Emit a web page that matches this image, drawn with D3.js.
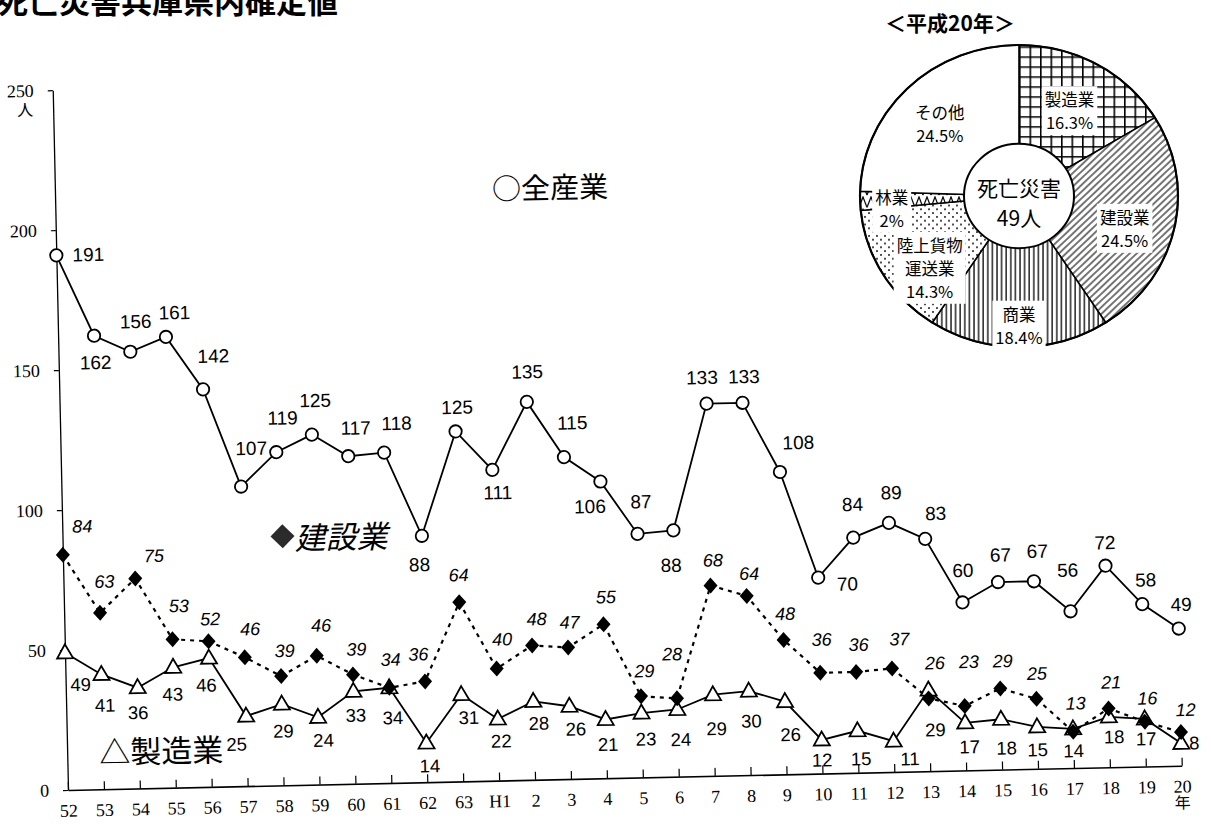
<!DOCTYPE html>
<html>
<head>
<meta charset="utf-8">
<script src="https://cdn.jsdelivr.net/npm/d3@7"></script>
<style>
  body { margin: 0; background: #fff; }
  svg { display: block; }
</style>
</head>
<body>
<svg id="chart" width="1211" height="833"></svg>
<script>
// ---- data -------------------------------------------------------------
const years = ["52","53","54","55","56","57","58","59","60","61","62","63","H1",
               "2","3","4","5","6","7","8","9","10","11","12","13","14","15","16","17","18","19","20"];
const allIndustries = [191,162,156,161,142,107,119,125,117,118,88,125,111,
                       135,115,106,87,88,133,133,108,70,84,89,83,60,67,67,56,72,58,49];
const construction  = [84,63,75,53,52,46,39,46,39,34,36,64,40,
                       48,47,55,29,28,68,64,48,36,36,37,26,23,29,25,13,21,16,12];
const manufacturing = [49,41,36,43,46,25,29,24,33,34,14,31,22,
                       28,26,21,23,24,29,30,26,12,15,11,29,17,18,15,14,18,17,8];
const yTicks = [0,50,100,150,200,250];

// 2008 breakdown (49 deaths)
const pieNames  = [["製造業"],["建設業"],["商業"],["陸上貨物","運送業"],["林業"],["その他"]];
const pieCounts = [8,12,9,7,1,12];
const piePct    = ["16.3%","24.5%","18.4%","14.3%","2%","24.5%"];
const pieFills  = ["url(#pGrid)","url(#pDiag)","url(#pVert)","url(#pDots)","url(#pZig)","#fff"];

// ---- label placement (offsets from each marker, px) -------------------
const allLabelOff = [[32,0],[1,27],[6,-30],[9,-24],[11,-33],[11,-38],[7,-34],[4,-34],[8,-28],[13,-29],
  [-3,29],[2,-24],[5,23],[1,-30],[9,-34],[-11,25],[4,-32],[-3,35],[-4,-26],[2,-26],[19,-29],[29,7],
  [0,-33],[3,-30],[11,-25],[1,-32],[3,-27],[4,-30],[-2,-41],[0,-23],[4,-24],[3,-24]];
const conLabelOff = [[20,-28],[5,-31],[19,-22],[7,-33],[2,-22],[6,-28],[4,-25],[5,-30],[4,-25],[2,-28],
  [-6,-27],[0,-27],[6,-29],[5,-26],[2,-25],[3,-27],[4,-25],[-4,-44],[3,-25],[3,-22],[2,-26],[2,-33],
  [3,-27],[8,-29],[7,-35],[5,-44],[3,-27],[1,-25],[3,-28],[3,-26],[3,-23],[5,-22]];
const mfgLabelOff = [[15,32],[3,31],[0,25],[-1,27],[-3,27],[-10,28],[1,27],[5,23],[2,24],[3,30],
  [3,23],[7,23],[3,22],[5,22],[6,23],[2,25],[4,26],[3,30],[3,34],[2,30],[5,33],[0,20],[3,28],
  [16,18],[6,40],[4,24],[5,29],[0,23],[0,22],[5,20],[1,20],[13,0]];
// pie label polar placement: [radius, angle shift in degrees]
const pieLabelPolar = [[103,0],[111,5],[136,0],[117,-9],[128,-4],[110,-2]];

const svg = d3.select("#chart");
const JP = "'Noto Sans CJK JP', sans-serif";
const NUM = "'Liberation Sans', Arial, sans-serif";
const SERIF = "'Liberation Serif', 'DejaVu Serif', serif";

// ---- fill patterns for the pie ---------------------------------------
const defs = svg.append("defs");
function pattern(id, w, h, transform) {
  const p = defs.append("pattern").attr("id", id)
    .attr("patternUnits", "userSpaceOnUse").attr("width", w).attr("height", h);
  if (transform) p.attr("patternTransform", transform);
  p.append("rect").attr("width", w).attr("height", h).attr("fill", "#fff");
  return p;
}
pattern("pGrid", 10.5, 10.5).append("path")
  .attr("d", "M0,0.8H10.5M0.8,0V10.5").attr("stroke", "#000").attr("stroke-width", 1.6);
pattern("pDiag", 5, 5, "rotate(45)").append("path")
  .attr("d", "M1,0V5").attr("stroke", "#000").attr("stroke-width", 1.1);
pattern("pVert", 4.6, 10).append("path")
  .attr("d", "M1,0V10").attr("stroke", "#000").attr("stroke-width", 1.3);
const dots = pattern("pDots", 8, 8);
dots.append("circle").attr("cx", 2).attr("cy", 2).attr("r", 0.95).attr("fill", "#000");
dots.append("circle").attr("cx", 6).attr("cy", 6).attr("r", 0.95).attr("fill", "#000");
pattern("pZig", 8, 13).append("path")
  .attr("d", "M0,12L4,1L8,12").attr("fill", "none").attr("stroke", "#000").attr("stroke-width", 1.2);

// ---- title -----------------------------------------------------------
svg.append("text").attr("x", -3).attr("y", 13)
  .attr("font-family", JP).attr("font-weight", "bold").attr("font-size", 31)
  .text("死亡災害兵庫県内確定値");

// ---- line chart (panel sits at a slight counter-clockwise tilt) -------
const x0 = 68, y0 = 790;
const g = svg.append("g").attr("transform", `rotate(-1.25,${x0},${y0})`);

const x = d3.scalePoint().domain(years).range([x0, 1182]);
const y = d3.scaleLinear().domain([0, 250]).range([y0, 90]);

// y axis
const yAxis = g.append("g").attr("transform", `translate(${x0},0)`)
  .call(d3.axisLeft(y).tickValues(yTicks).tickSizeInner(5).tickSizeOuter(0).tickPadding(14));
yAxis.select(".domain").attr("stroke-width", 1.3);
yAxis.selectAll(".tick line").attr("stroke-width", 1.2);
yAxis.selectAll(".tick text").attr("font-family", SERIF).attr("font-size", 18).attr("fill", "#000");
g.append("text").attr("x", x0 - 28).attr("y", y(250) + 18)
  .attr("text-anchor", "middle").attr("dominant-baseline", "central")
  .attr("font-family", JP).attr("font-size", 16).text("人");

// x axis (ticks point up into the plot)
const xAxis = g.append("g").attr("transform", `translate(0,${y0})`)
  .call(d3.axisBottom(x).tickSizeInner(-8).tickSizeOuter(0).tickPadding(14));
xAxis.select(".domain").attr("stroke-width", 1.6);
xAxis.selectAll(".tick line").attr("stroke-width", 1.2);
xAxis.selectAll(".tick text").attr("font-family", SERIF).attr("font-size", 18).attr("fill", "#000");
g.append("text").attr("x", x(years[years.length - 1])).attr("y", y0 + 36)
  .attr("text-anchor", "middle").attr("dominant-baseline", "central")
  .attr("font-family", JP).attr("font-size", 16).text("年");

const lineGen = d3.line().x((d, i) => x(years[i])).y(d => y(d));

// all industries: solid line, open circles
g.append("path").datum(allIndustries).attr("d", lineGen)
  .attr("fill", "none").attr("stroke", "#000").attr("stroke-width", 1.8);
g.selectAll(".c-all").data(allIndustries).join("circle").attr("class", "c-all")
  .attr("cx", (d, i) => x(years[i])).attr("cy", d => y(d)).attr("r", 6.2)
  .attr("fill", "#fff").attr("stroke", "#000").attr("stroke-width", 1.8);

// manufacturing: solid line, open triangles
g.append("path").datum(manufacturing).attr("d", lineGen)
  .attr("fill", "none").attr("stroke", "#000").attr("stroke-width", 1.8);
g.selectAll(".t-mfg").data(manufacturing).join("path").attr("class", "t-mfg")
  .attr("transform", (d, i) => `translate(${x(years[i])},${y(d)})`)
  .attr("d", "M0,-8.5L8,5.5L-8,5.5Z")
  .attr("fill", "#fff").attr("stroke", "#000").attr("stroke-width", 1.8).attr("stroke-linejoin", "miter");

// construction: dashed line, filled diamonds
g.append("path").datum(construction).attr("d", lineGen)
  .attr("fill", "none").attr("stroke", "#000").attr("stroke-width", 2.2)
  .attr("stroke-dasharray", "4,5");
g.selectAll(".d-con").data(construction).join("path").attr("class", "d-con")
  .attr("transform", (d, i) => `translate(${x(years[i])},${y(d)})`)
  .attr("d", "M0,-8L7,0L0,8L-7,0Z").attr("fill", "#000");

// value labels
function labels(values, offsets, cls, size, italic) {
  g.selectAll("." + cls).data(values).join("text").attr("class", cls)
    .attr("x", (d, i) => x(years[i]) + offsets[i][0])
    .attr("y", (d, i) => y(d) + offsets[i][1])
    .attr("text-anchor", "middle").attr("dominant-baseline", "central")
    .attr("font-family", NUM).attr("font-size", size)
    .attr("font-style", italic ? "italic" : "normal")
    .text(d => d);
}
labels(allIndustries, allLabelOff, "l-all", 19, false);
labels(manufacturing, mfgLabelOff, "l-mfg", 18.5, false);
labels(construction, conLabelOff, "l-con", 18, true);

// series names
g.append("text").attr("x", 505).attr("y", 196).attr("dominant-baseline", "central")
  .attr("font-family", JP).attr("font-size", 29).text("○全産業");
g.append("path").attr("transform", "translate(288,541)")
  .attr("d", "M0,-12L12,0L0,12L-12,0Z").attr("fill", "#2b2b2b");
g.append("text").attr("x", 300).attr("y", 541).attr("dominant-baseline", "central")
  .attr("font-family", JP).attr("font-size", 31).attr("font-style", "italic")
  .text("建設業");
g.append("text").attr("x", 100).attr("y", 751).attr("dominant-baseline", "central")
  .attr("font-family", JP).attr("font-size", 31).text("△製造業");

// ---- pie: 2008 breakdown ---------------------------------------------
const cx = 1019, cy = 196, R = 159, r0 = 55, squash = 0.95;
svg.append("text").attr("x", 950).attr("y", 22)
  .attr("text-anchor", "middle").attr("dominant-baseline", "central")
  .attr("font-family", JP).attr("font-weight", "bold").attr("font-size", 21)
  .text("＜平成20年＞");

const pie = d3.pie().sort(null).value(d => d)(pieCounts);
const arc = d3.arc().innerRadius(0).outerRadius(R);
const pg = svg.append("g").attr("transform", `translate(${cx},${cy}) scale(1,${squash})`);
pg.selectAll(".slice").data(pie).join("path").attr("class", "slice")
  .attr("d", arc).attr("fill", (d, i) => pieFills[i])
  .attr("stroke", "#000").attr("stroke-width", 1.6);
pg.append("circle").attr("r", R).attr("fill", "none").attr("stroke", "#000").attr("stroke-width", 2.2);
pg.append("circle").attr("r", r0).attr("fill", "#fff").attr("stroke", "#000").attr("stroke-width", 2);

const lineH = 23;
pie.forEach((d, i) => {
  const a = (d.startAngle + d.endAngle) / 2 + pieLabelPolar[i][1] * Math.PI / 180;
  const rr = pieLabelPolar[i][0];
  const lx = cx + rr * Math.sin(a), ly = cy - rr * Math.cos(a) * squash;
  const lines = pieNames[i].concat([piePct[i]]);
  const lg = svg.append("g");
  const bg = lg.append("rect").attr("fill", "#fff");
  const t = lg.append("text").attr("text-anchor", "middle")
    .attr("font-family", JP).attr("font-size", 16.5);
  lines.forEach((s, k) => {
    t.append("tspan").attr("x", lx)
      .attr("y", ly + (k - (lines.length - 1) / 2) * lineH)
      .attr("dominant-baseline", "central").text(s);
  });
  const bb = t.node().getBBox();
  bg.attr("x", bb.x - 3).attr("y", bb.y - 1).attr("width", bb.width + 6).attr("height", bb.height + 2);
});

// total in the centre hole
const centerLines = ["死亡災害", "49人"];
centerLines.forEach((s, k) => {
  svg.append("text").attr("text-anchor", "middle").attr("dominant-baseline", "central")
    .attr("font-family", JP).attr("font-size", 21)
    .attr("x", cx).attr("y", cy + 6 + (k - 0.5) * 30).text(s);
});
</script>
</body>
</html>
